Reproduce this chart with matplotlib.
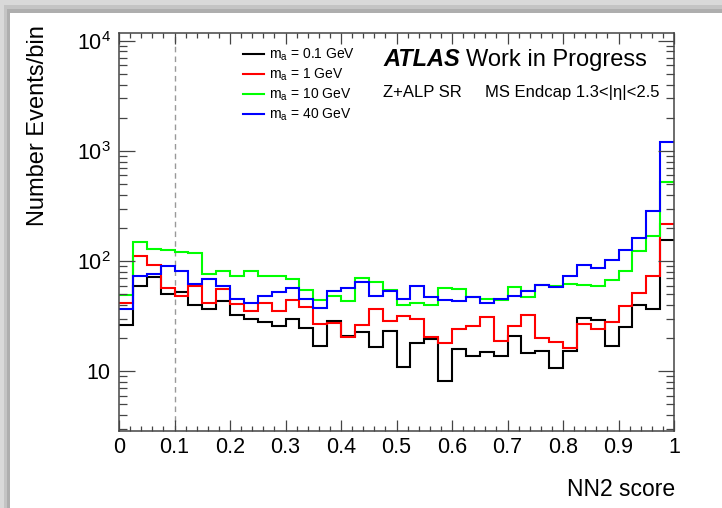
import numpy as np
import matplotlib
matplotlib.use("Agg")
import matplotlib.pyplot as plt
from matplotlib.patches import Rectangle
from matplotlib.ticker import FixedLocator, FixedFormatter, MultipleLocator, LogLocator, NullFormatter

plt.rcParams['font.family'] = 'Liberation Sans'
plt.rcParams['mathtext.fontset'] = 'custom'
plt.rcParams['mathtext.rm'] = 'Liberation Sans'
plt.rcParams['mathtext.it'] = 'Liberation Sans:italic'

# NN2 score histograms, 40 bins in [0, 1]
n_bins = 40
edges = np.linspace(0, 1, n_bins + 1)

black = [26.3, 60, 72, 50.7, 52, 40, 36.7, 43, 32.6, 29.8,
         27.8, 25.9, 29.8, 24.7, 17.1, 28.4, 20.7, 22.8, 16.5, 23,
         10.9, 18, 19.6, 8.1, 15.9, 13.9, 14.9, 13.8, 21, 14.6,
         15.2, 10.7, 15.4, 30.4, 29.4, 16.8, 25.2, 40, 36.7, 157]
red = [42, 112, 93, 57, 48.6, 60, 42, 56, 40.8, 35.5,
       42, 35.5, 44.4, 38, 27, 27.2, 20.6, 26.5, 36.7, 28.4,
       32, 30, 20.5, 18, 24.3, 26, 31, 18.7, 26, 32.6,
       20, 18.4, 16.2, 27, 24.3, 27.8, 38.9, 51.4, 73, 219]
green = [49.6, 149, 130, 125, 121, 119, 76.5, 81, 74, 81,
         74, 74, 69, 55, 44, 48, 43, 70, 64, 55,
         40, 42, 40, 57, 56, 47, 45.6, 44.7, 58, 47,
         61, 60, 62, 61, 60, 68, 81, 123, 170, 521]
blue = [36.7, 74, 77, 90, 81, 62, 69, 60, 45, 42,
        48.6, 52, 57, 45, 37.5, 53, 57, 64, 48.6, 53,
        45.6, 59, 47, 44.7, 43, 47, 42, 45.6, 48.6, 53,
        61, 58, 73, 92, 87, 103, 125, 162, 288, 1202]

series = [black, red, green, blue]
colors = ['#000000', '#ff0000', '#00ff00', '#0000ff']
labels = [r'$\mathregular{m_a}$ = 0.1 GeV', r'$\mathregular{m_a}$ = 1 GeV',
          r'$\mathregular{m_a}$ = 10 GeV', r'$\mathregular{m_a}$ = 40 GeV']

x_ticks = [0, 0.1, 0.2, 0.3, 0.4, 0.5, 0.6, 0.7, 0.8, 0.9, 1]
x_tick_labels = ['0', '0.1', '0.2', '0.3', '0.4', '0.5', '0.6', '0.7', '0.8', '0.9', '1']
y_ticks = [10, 100, 1000, 10000]
y_tick_labels = ['10', r'$\mathregular{10^{2}}$', r'$\mathregular{10^{3}}$', r'$\mathregular{10^{4}}$']

W, H = 722, 508
fig = plt.figure(figsize=(W / 100, H / 100), dpi=100)
fig.patch.set_facecolor('#d9d9d9')


def px_rect(x0, y0, x1, y1, color):
    # rectangle given in pixel coords from the top-left corner
    fig.patches.append(Rectangle((x0 / W, 1 - y1 / H), (x1 - x0) / W, (y1 - y0) / H,
                                 transform=fig.transFigure, facecolor=color,
                                 edgecolor='none', zorder=-10))


# soft shadow around the white card
px_rect(4, 5, W, H, '#c4c4c4')
px_rect(7, 9, W, H, '#aeaeae')
px_rect(10, 13, W, H, '#ffffff')

ax = fig.add_axes([119 / W, 1 - 430.5 / H, (674 - 119) / W, (430.5 - 33.3) / H])
ax.set_facecolor('white')

for vals, c in zip(series, colors):
    ax.stairs(vals, edges, baseline=None, color=c, lw=1.5)

ax.axvline(0.1, color='#999999', lw=1.0, ls=(0, (4, 3)), zorder=0)

ax.set_yscale('log')
ax.set_xlim(0, 1)
ax.set_ylim(2.9, 1.17e4)

ax.xaxis.set_major_locator(FixedLocator(x_ticks))
ax.xaxis.set_major_formatter(FixedFormatter(x_tick_labels))
ax.xaxis.set_minor_locator(MultipleLocator(0.02))
ax.yaxis.set_major_locator(FixedLocator(y_ticks))
ax.yaxis.set_major_formatter(FixedFormatter(y_tick_labels))
ax.yaxis.set_minor_locator(LogLocator(base=10, subs=np.arange(2, 10)))
ax.yaxis.set_minor_formatter(NullFormatter())

frame_col = '#444444'
for sp in ax.spines.values():
    sp.set_color(frame_col)
    sp.set_linewidth(1.1)
ax.tick_params(which='both', direction='in', top=True, right=True,
               color=frame_col, width=0.9, labelsize=15.5)
ax.tick_params(axis='x', which='major', length=8, pad=5)
ax.tick_params(axis='x', which='minor', length=3.8)
ax.tick_params(axis='y', which='major', length=11.5, pad=6)
ax.tick_params(axis='y', which='minor', length=5.8)

ax.legend(labels, loc='upper left', bbox_to_anchor=(243 / W, 1 - 47 / H),
          bbox_transform=fig.transFigure, frameon=False, fontsize=10,
          handlelength=1.5, handletextpad=0.4, labelspacing=0.25,
          borderpad=0, borderaxespad=0)

fig.text(383 / W, 1 - 60 / H, 'ATLAS', weight='bold', style='italic', size=17, va='center')
fig.text(466 / W, 1 - 60 / H, 'Work in Progress', size=17, va='center')
fig.text(383 / W, 1 - 92.5 / H, 'Z+ALP SR', size=12, va='center')
fig.text(485 / W, 1 - 92.5 / H, 'MS Endcap 1.3<|η|<2.5', size=12, va='center')

fig.text(38 / W, 1 - 25 / H, 'Number Events/bin', rotation=90, ha='center', va='top', size=17)
fig.text(675 / W, 1 - 490 / H, 'NN2 score', ha='right', va='center', size=16.5)

fig.savefig('out.png', dpi=100, facecolor=fig.get_facecolor())
